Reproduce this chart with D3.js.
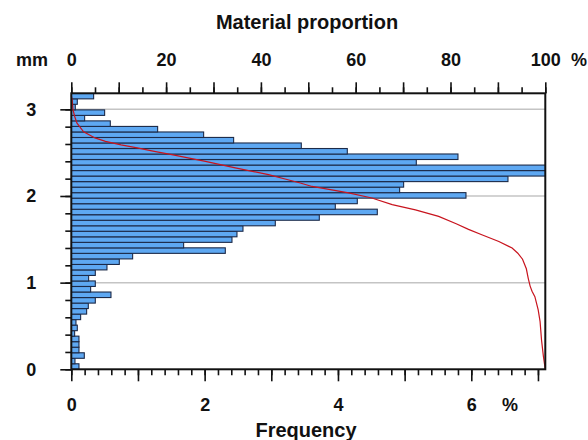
<!DOCTYPE html>
<html>
<head>
<meta charset="utf-8">
<script src="https://cdn.jsdelivr.net/npm/d3@7"></script>
<style>
  body { margin: 0; background: #fff; }
  svg text { font-family: "Liberation Sans", Arial, sans-serif; font-weight: bold; fill: #111; }
</style>
</head>
<body>
<svg id="chart"></svg>
<script>
// histogram bins (lower edge, mm) from bottom to top
const binLow = [0.000, 0.064, 0.127, 0.191, 0.255, 0.319, 0.382, 0.446, 0.510, 0.573,
  0.637, 0.701, 0.764, 0.828, 0.892, 0.956, 1.019, 1.083, 1.147, 1.210,
  1.274, 1.338, 1.401, 1.465, 1.529, 1.593, 1.656, 1.720, 1.784, 1.847,
  1.911, 1.975, 2.038, 2.102, 2.166, 2.230, 2.293, 2.357, 2.421, 2.484,
  2.548, 2.612, 2.675, 2.739, 2.803, 2.867, 2.930, 2.994, 3.058, 3.121];
const binHeight = 0.0637;
// frequency (%) per bin
const frequency = [0.115, 0.055, 0.195, 0.115, 0.115, 0.115, 0.05, 0.09, 0.07, 0.14,
  0.23, 0.255, 0.36, 0.595, 0.29, 0.36, 0.26, 0.36, 0.535, 0.72,
  0.92, 2.31, 1.685, 2.41, 2.485, 2.575, 3.06, 3.72, 4.59, 3.96,
  4.29, 5.92, 4.925, 4.985, 6.55, 7.25, 7.2, 5.175, 5.80, 4.14,
  3.45, 2.435, 1.985, 1.295, 0.585, 0.20, 0.50, 0.06, 0.09, 0.335];

// material ratio curve (Abbott-Firestone)
const curvePct = [0, 0.2, 0.35, 0.7, 1.2, 2.6, 5, 7.2, 10.5, 13.9, 17.5, 21.2, 28.3, 34.6, 41.6, 45.5, 48.3,
  50.8, 58.5, 63.4, 67.7, 72.6, 77.5, 81.2, 83.8, 86.6, 90.2, 93, 94.2, 95.2, 96.0, 96.4, 96.8,
  97.2, 97.8, 98.5, 98.9, 99.2, 99.6, 100];
const curveMm = [3.16, 3.1, 3.0, 2.92, 2.84, 2.74, 2.67, 2.63, 2.59, 2.555, 2.515, 2.478, 2.40, 2.324, 2.246, 2.19, 2.15,
  2.11, 2.035, 1.977, 1.90, 1.84, 1.764, 1.68, 1.615, 1.552, 1.475, 1.399, 1.34, 1.27, 1.16, 1.05, 0.96,
  0.9, 0.839, 0.686, 0.55, 0.34, 0.15, 0.0];

const mmTicks = [0, 1, 2, 3];
const freqLabels = [0, 2, 4, 6];
const pctLabels = [0, 20, 40, 60, 80, 100];

const W = 588, H = 440;
const margin = { top: 93.3, right: 42.7, bottom: 70.7, left: 71.3 },
  width = W - margin.left - margin.right,
  height = H - margin.top - margin.bottom;

const svgRoot = d3.select("#chart").attr("width", W).attr("height", H);
const svg = svgRoot.append("g")
  .attr("transform", `translate(${margin.left},${margin.top})`);

const x = d3.scaleLinear().domain([0, 7.11]).range([0, width]);
const xPct = d3.scaleLinear().domain([0, 100]).range([0, width]);
const y = d3.scaleLinear().domain([0, 3.185]).range([height, 0]);

svg.append("clipPath").attr("id", "clip")
  .append("rect").attr("width", width).attr("height", height);

// grid lines
svg.selectAll(".grid")
  .data(mmTicks.filter(d => d > 0))
  .enter().append("line")
  .attr("x1", 0).attr("x2", width)
  .attr("y1", d => y(d)).attr("y2", d => y(d))
  .attr("stroke", "#c4c4c4").attr("stroke-width", 1.5);

// bars
const bins = binLow.map((b, i) => ({ low: b, freq: frequency[i] }));
svg.append("g").attr("clip-path", "url(#clip)")
  .selectAll("rect")
  .data(bins)
  .enter().append("rect")
  .attr("x", x(0))
  .attr("y", d => y(d.low + binHeight))
  .attr("width", d => x(d.freq) - x(0))
  .attr("height", d => y(d.low) - y(d.low + binHeight))
  .attr("fill", "#5ea8f2")
  .attr("stroke", "#1c2a48")
  .attr("stroke-width", 1.1);

// material ratio curve
const curve = curvePct.map((p, i) => [p, curveMm[i]]);
svg.append("path")
  .datum(curve)
  .attr("fill", "none")
  .attr("stroke", "#c8141e")
  .attr("stroke-width", 1.2)
  .attr("d", d3.line().x(d => xPct(d[0])).y(d => y(d[1])));

// axes
function styleAxis(g) {
  g.select(".domain").remove();
  g.selectAll("line").attr("stroke", "#111").attr("stroke-width", 1.6);
  g.selectAll("text").style("font-size", "18px").attr("fill", "#111");
}

// left: minor + major
svg.append("g")
  .call(d3.axisLeft(y).tickValues(d3.range(0, 3.2, 0.2)).tickSize(6).tickFormat(""))
  .call(styleAxis);
svg.append("g")
  .call(d3.axisLeft(y).tickValues(mmTicks).tickSize(11).tickPadding(24).tickFormat(d3.format("d")))
  .call(styleAxis);

// bottom
svg.append("g").attr("transform", `translate(0,${height})`)
  .call(d3.axisBottom(x).tickValues(d3.range(0, 7.1, 0.2)).tickSize(6).tickFormat(""))
  .call(styleAxis);
svg.append("g").attr("transform", `translate(0,${height})`)
  .call(d3.axisBottom(x).tickValues(d3.range(0, 8, 1)).tickSize(12).tickPadding(17)
    .tickFormat(d => freqLabels.includes(d) ? d : ""))
  .call(styleAxis);

// top
svg.append("g")
  .call(d3.axisTop(xPct).tickValues(d3.range(0, 101, 5)).tickSize(6).tickFormat(""))
  .call(styleAxis);
svg.append("g")
  .call(d3.axisTop(xPct).tickValues(d3.range(0, 101, 10)).tickSize(11).tickPadding(16)
    .tickFormat(d => pctLabels.includes(d) ? d : ""))
  .call(styleAxis);

// frame
svg.append("rect")
  .attr("width", width).attr("height", height)
  .attr("fill", "none").attr("stroke", "#111").attr("stroke-width", 2);

// titles and units
svgRoot.append("text").attr("x", 307).attr("y", 29).attr("text-anchor", "middle")
  .style("font-size", "20px").text("Material proportion");
svgRoot.append("text").attr("x", 306).attr("y", 437).attr("text-anchor", "middle")
  .style("font-size", "20px").text("Frequency");
svgRoot.append("text").attr("x", 16).attr("y", 66)
  .style("font-size", "18px").text("mm");
svgRoot.append("text").attr("x", 571).attr("y", 66)
  .style("font-size", "18px").text("%");
svgRoot.append("text").attr("x", 502).attr("y", 411)
  .style("font-size", "18px").text("%");
</script>
</body>
</html>
